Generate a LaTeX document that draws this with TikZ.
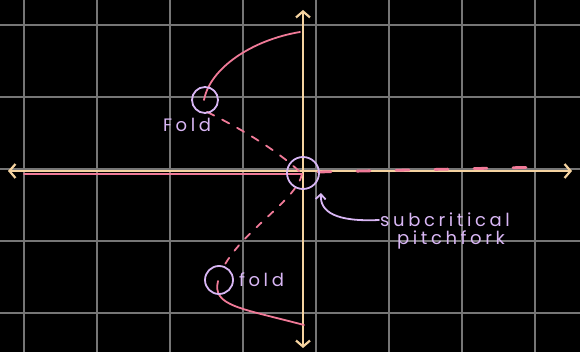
\documentclass[tikz,border=0pt]{standalone}
\usepackage{fontspec}
\newfontfamily\handfont[LetterSpace=20]{Poppins}
\usepackage{xcolor}
\usetikzlibrary{arrows.meta,positioning}
\definecolor{gridgrey}{HTML}{767676}
\definecolor{axiscream}{HTML}{F5D3A0}
\definecolor{branchpink}{HTML}{F07A98}
\definecolor{marklilac}{HTML}{D8B6F4}
\tikzset{
  plotgrid/.style={
    draw=gridgrey,
    line width=1.6pt
  },
  plotaxis/.style={
    draw=axiscream,
    line width=2.2pt,
    line cap=round,
    {Straight Barb[length=6pt,width=14pt]}-{Straight Barb[length=6pt,width=14pt]}
  },
  branchstable/.style={
    draw=branchpink,
    line width=1.8pt,
    line cap=round
  },
  branchunstable/.style={
    branchstable,
    dash pattern=on 8pt off 9pt
  },
  markcircle/.style={
    circle,
    draw=marklilac,
    line width=1.8pt,
    inner sep=0pt
  },
  marklabel/.style={
    text=marklilac,
    font=\handfont\fontsize{18}{20}\selectfont,
    inner sep=1pt
  },
  markarrow/.style={
    -{Straight Barb[length=5pt,width=10pt]},
    draw=marklilac,
    line width=1.8pt,
    line cap=round
  }
}
\begin{document}
\begin{tikzpicture}[x=1pt,y=-1pt]
    \fill[black] (0,0) rectangle (580,352);
    \useasboundingbox (0,0) rectangle (580,352);

    % grid
    \foreach \gx in {24,97,...,535}
      \draw[plotgrid] (\gx,0) -- (\gx,352);
    \foreach \gy in {25,97,...,313}
      \draw[plotgrid] (0,\gy) -- (580,\gy);

    % axes
    \draw[plotaxis] (8,171) -- (572,171);
    \draw[plotaxis] (303,10) -- (303,348);

    % points of the diagram
    \coordinate (origin) at (302,174);
    \coordinate (left) at (24,174);
    \coordinate (right) at (545,167);
    \coordinate (topend) at (300,32);
    \coordinate (botend) at (304,325);
    \coordinate (foldtop) at (204,100);
    \coordinate (foldbot) at (218,281);

    % branches
    \draw[branchstable] (left) -- (origin);
    \draw[branchstable, line width=2.8pt, dash pattern=on 13pt off 26pt] (318,172) -- (right);
    \draw[branchstable] (foldtop) .. controls (210,68) and (252,40) .. (topend);
    \draw[branchunstable] (foldtop) ++(3,12) .. controls (240,128) and (280,152) .. (origin);
    \draw[branchunstable, dash pattern=on 7pt off 9pt] (origin) .. controls (297,200) and (240,232) .. (222,270);
    \draw[branchstable] (foldbot) .. controls (212,306) and (240,308) .. (botend);

    % marks
    \node[markcircle, minimum size=26pt] (foldup) at (205,100) {};
    \node[markcircle, minimum size=32pt] (pitch) at (303,173) {};
    \node[markcircle, minimum size=28pt] (folddown) at (219,280) {};

    \node[marklabel] (foldupl) at (187,125) {Fold};
    \node[marklabel, right=4pt of folddown] (folddownl) {fold};
    \node[marklabel] (subcrit) at (445,220) {subcritical};
    \node[marklabel, below=1pt of subcrit, xshift=6pt] (pitchf) {pitchfork};

    \draw[markarrow] (subcrit.west) .. controls (336,222) and (320,212) .. ([shift={(6pt,-8pt)}]pitch.south east);
  \end{tikzpicture}
\end{document}
